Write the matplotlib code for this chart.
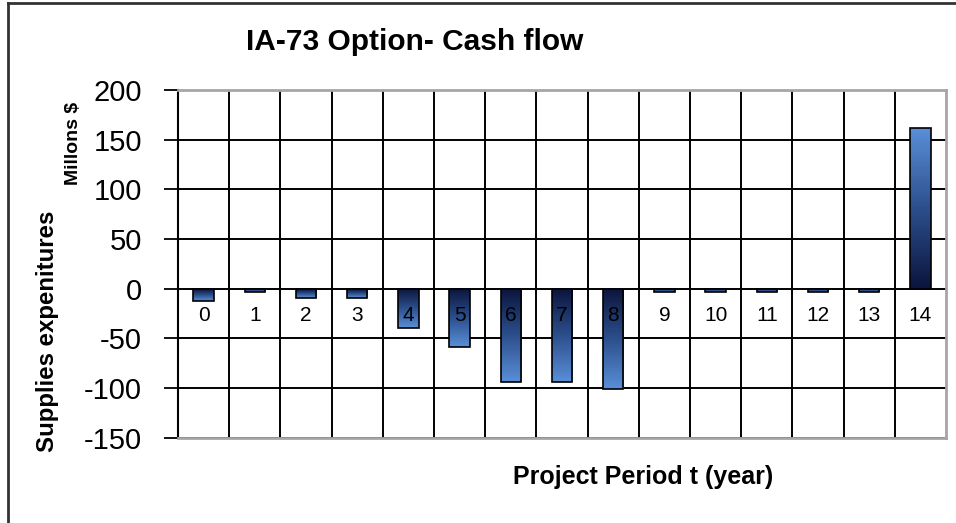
import numpy as np
import matplotlib
matplotlib.use('Agg')
import matplotlib.pyplot as plt
from matplotlib.colors import LinearSegmentedColormap
from matplotlib.lines import Line2D

# data
periods = list(range(15))
cash_flow = [-12, -3, -9, -9, -40, -59, -94, -94, -101, -3, -3, -3, -3, -3, 162]
y_ticks = [-150, -100, -50, 0, 50, 100, 150, 200]

plt.rcParams['font.family'] = ['Liberation Sans', 'DejaVu Sans']
plt.rcParams['axes.unicode_minus'] = False

fig = plt.figure(figsize=(9.56, 5.23), dpi=100)
ax = fig.add_axes([178 / 956, 1 - 437.7 / 523, (946 - 178) / 956, (437.7 - 90) / 523])

# dark near zero -> light at the bar end
cmap = LinearSegmentedColormap.from_list('bar', ['#0b143c', '#2c4f8c', '#5a8fd8'])
grad = np.linspace(0, 1, 256).reshape(-1, 1)
w = 0.4
for p, v in zip(periods, cash_flow):
    ax.imshow(grad, cmap=cmap, aspect='auto', origin='lower',
              extent=(p - w / 2, p + w / 2, 0, v), zorder=3)
    ax.add_patch(plt.Rectangle((p - w / 2, 0), w, v, fill=False,
                               edgecolor='black', linewidth=1.2, zorder=4))
    # category labels sit inside the plot under the zero line
    ax.text(p, -27, str(p), ha='center', va='center', fontsize=15, zorder=5)

ax.set_xlim(-0.5, 14.5)
ax.set_ylim(-150, 200)
ax.set_yticks(y_ticks)
ax.tick_params(axis='y', labelsize=21, length=10, width=1.3, pad=16, direction='out')
ax.set_xticks([])
ax.set_xticks(np.arange(0.5, 14, 1), minor=True)
ax.tick_params(axis='x', which='both', length=0, labelbottom=False)

# grid
ax.grid(which='minor', axis='x', color='black', linewidth=1.4, zorder=1)
ax.grid(which='major', axis='y', color='black', linewidth=1.4, zorder=1)
ax.set_axisbelow(True)

for s in ['top', 'right', 'bottom']:
    ax.spines[s].set_color('#a6a6a6')
    ax.spines[s].set_linewidth(2)
ax.spines['left'].set_color('black')
ax.spines['left'].set_linewidth(1.5)

# titles and labels
fig.text(415 / 956, 1 - 42 / 523, 'IA-73 Option- Cash flow', ha='center', va='center',
         fontsize=21.5, fontweight='bold')
fig.text(643 / 956, 1 - 477 / 523, 'Project Period t (year)', ha='center', va='center',
         fontsize=18, fontweight='bold')
fig.text(48 / 956, 1 - 331 / 523, 'Supplies expenitures', ha='center', va='center',
         rotation=90, fontsize=17.3, fontweight='bold')
fig.text(73 / 956, 1 - 143 / 523, 'Millons $', ha='center', va='center',
         rotation=90, fontsize=14, fontweight='bold')

# outer frame (cut off at right and bottom)
fig.add_artist(Line2D([8 / 956, 1], [1 - 3 / 523, 1 - 3 / 523], color='#333333', linewidth=2))
fig.add_artist(Line2D([8 / 956, 8 / 956], [0, 1 - 3 / 523], color='#333333', linewidth=2))

fig.savefig('out.png', dpi=100)
